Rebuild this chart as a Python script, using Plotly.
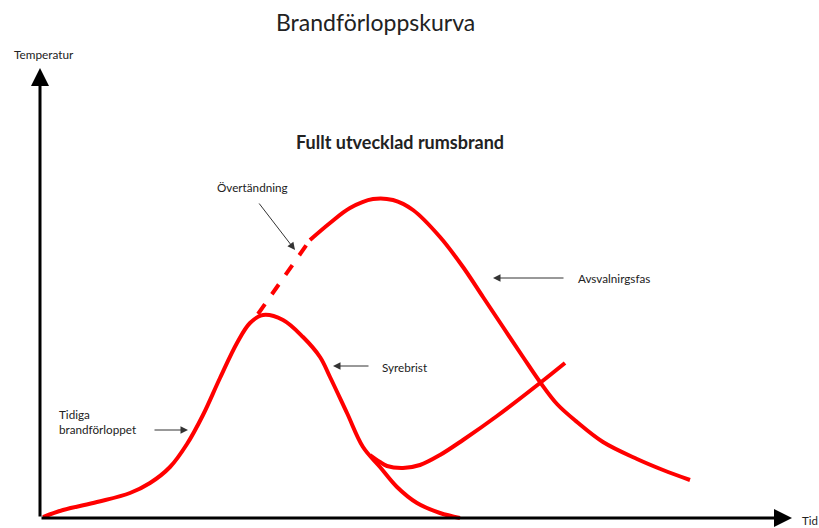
import plotly.graph_objects as go

# ---- data (arbitrary units: time along x, temperature along y) ----
early_t = [3, 23, 57, 90, 110, 130, 147, 163, 180, 197, 210, 223, 243, 263, 280, 290, 307, 323, 340, 357, 377, 400, 420]
early_T = [1, 8, 16, 25, 35, 51, 74, 103, 140, 175, 195, 203, 198, 181, 161, 141, 105, 71, 51, 31, 15, 5, 0]

regrow_t = [330, 340, 347, 363, 380, 400, 423, 457, 500, 525]
regrow_T = [63, 56, 52, 50, 53, 63, 78, 102, 135, 155]

flash_t = [218, 244, 270]
flash_T = [204, 241, 278]

full_t = [270, 290, 310, 333, 353, 373, 400, 423, 443, 463, 483, 500, 517, 537, 563, 597, 623, 650]
full_T = [278, 295, 310, 319, 318, 308, 281, 251, 221, 191, 161, 136, 114, 96, 76, 59, 48, 38]

RED = "#ff0000"
FONT = "Lato"

fig = go.Figure()
for t, T, dash in [(early_t, early_T, "solid"), (regrow_t, regrow_T, "solid"),
                   (flash_t, flash_T, "dash"), (full_t, full_T, "solid")]:
    fig.add_trace(go.Scatter(x=t, y=T, mode="lines",
                             line=dict(color=RED, width=4, shape="spline", smoothing=1.0, dash=dash),
                             hoverinfo="skip", showlegend=False))

ann = []
# axes arrows
ann.append(dict(x=0, y=450, ax=0, ay=0, xref="x", yref="y", axref="x", ayref="y",
                text="", showarrow=True, arrowhead=2, arrowsize=1.2, arrowwidth=3, arrowcolor="black", standoff=0))
ann.append(dict(x=752, y=0, ax=0, ay=0, xref="x", yref="y", axref="x", ayref="y",
                text="", showarrow=True, arrowhead=2, arrowsize=1.2, arrowwidth=3, arrowcolor="black", standoff=0))

# annotation arrows (thin)
for (hx, hy, tx, ty) in [(255, 268, 218, 316), (148, 88, 113, 88), (293, 152, 330, 152), (453, 240, 525, 240)]:
    ann.append(dict(x=hx, y=hy, ax=tx, ay=ty, xref="x", yref="y", axref="x", ayref="y",
                    text="", showarrow=True, arrowhead=2, arrowsize=1.5, arrowwidth=1, arrowcolor="#333333", standoff=0))

def txt(x, y, s, size, bold=False, align="center", xanchor="center"):
    return dict(x=x, y=y, xref="x", yref="y", text=("<b>%s</b>" % s) if bold else s, showarrow=False,
                font=dict(family=FONT, size=size, color="#222222"), align=align, xanchor=xanchor, yanchor="middle",
                borderpad=0)

ann.append(txt(335, 496, "Brandförloppskurva", 23))
ann.append(txt(360, 376, "Fullt utvecklad rumsbrand", 18, bold=True))
ann.append(txt(4, 464, "Temperatur", 11.8))
ann.append(txt(770, -2, "Tid", 11.5))
ann.append(txt(212, 331, "Övertändning", 11.7))
ann.append(txt(18, 97, "Tidiga<br>brandförloppet", 11.7, align="left", xanchor="left"))
ann.append(txt(365, 151, "Syrebrist", 11.7))
ann.append(txt(574, 240, "Avsvalnirgsfas", 11.7))

# full-window figure; ranges keep 1 unit = 1 px
fig.update_layout(
    width=819, height=528, margin=dict(l=0, r=0, t=0, b=0),
    paper_bgcolor="white", plot_bgcolor="white",
    xaxis=dict(range=[-40, 779], visible=False, fixedrange=True),
    yaxis=dict(range=[-10, 518], visible=False, fixedrange=True),
    annotations=ann, showlegend=False,
)
fig.write_html("out.html", config={"displayModeBar": False},
               post_script="document.body.style.margin='0px';")
